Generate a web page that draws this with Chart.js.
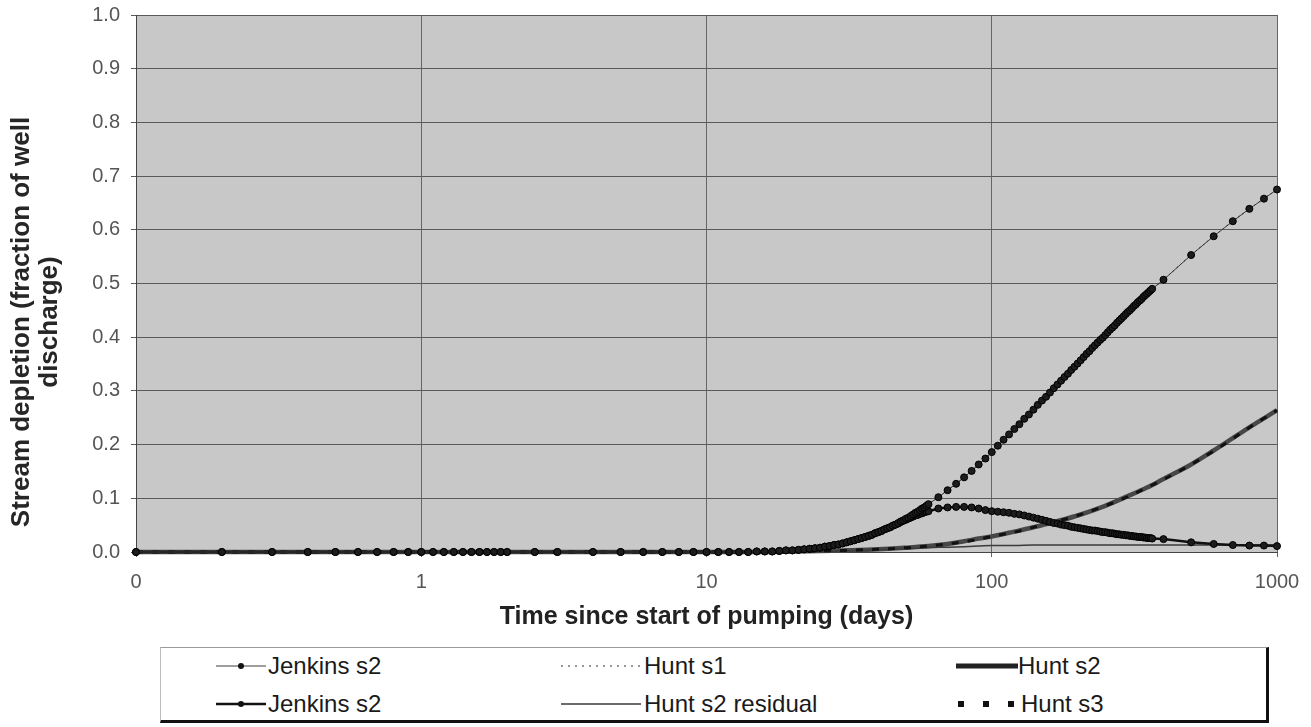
<!DOCTYPE html>
<html>
<head>
<meta charset="utf-8">
<title>Stream depletion</title>
<script src="https://cdn.jsdelivr.net/npm/chart.js@4.4.1/dist/chart.umd.min.js"></script>
<style>
    html, body { margin: 0; padding: 0; background: #fff; }
    body { width: 1311px; height: 727px; position: relative; overflow: hidden; font-family: "Liberation Sans", Arial, sans-serif; }
    #wrap { position: absolute; left: 0; top: 0; width: 1311px; height: 727px; }
    #ytitle {
        position: absolute;
        width: 540px;
        height: 56px;
        left: -236px;
        top: 294px;
        transform: rotate(-90deg);
        text-align: center;
        font-weight: bold;
        font-size: 26px;
        line-height: 28px;
        color: #262626;
        white-space: nowrap;
    }
    #legend {
        position: absolute;
        left: 160px;
        top: 647px;
        width: 1105px;
        height: 72px;
        background: #fff;
        border-top: 1px solid #9a9a9a;
        border-left: 1px solid #bdbdbd;
        border-right: 3px solid #111;
        border-bottom: 3px solid #111;
    }
    .item { position: absolute; display: flex; align-items: center; height: 30px; }
    .item span { font-family: "Liberation Sans Narrow", "Arial Narrow", "Liberation Sans", sans-serif; font-size: 24px; color: #1a1a1a; }
</style>
</head>
<body>
<div id="wrap"><canvas id="grafico"></canvas></div>
<div id="ytitle"></div>
<div id="legend"></div>
<script>
// Time grid of the Jenkins runs (days)
const days = [
    0.1, 0.2, 0.3, 0.4, 0.5, 0.6, 0.7, 0.8, 0.9, 1,
    1.1, 1.2, 1.3, 1.4, 1.5, 1.6, 1.7, 1.8, 1.9, 2,
    2.5, 3, 4, 5, 6, 7, 8, 9,
    10, 11, 12, 13, 14, 15, 16, 17, 18, 19, 20, 21, 22, 23, 24, 25, 26, 27, 28, 29, 30,
    31, 32, 33, 34, 35, 36, 37, 38, 39, 40, 41, 42, 43, 44, 45, 46, 47, 48, 49, 50,
    51, 52, 53, 54, 55, 56, 57, 58, 59, 60,
    65, 70, 75, 80, 85, 90, 95, 100,
    105, 110, 115, 120, 125, 130, 135, 140, 145, 150, 155, 160, 165, 170, 175, 180, 185, 190, 195, 200,
    205, 210, 215, 220, 225, 230, 235, 240, 245, 250, 255, 260, 265, 270, 275, 280, 285, 290, 295, 300,
    305, 310, 315, 320, 325, 330, 335, 340, 345, 350, 355, 360, 365,
    400, 500, 600, 700, 800, 900, 1000
];

// Jenkins s2, continuous pumping
const jenkinsS2 = [
    0, 0, 0, 0, 0, 0, 0, 0, 0, 0,
    0, 0, 0, 0, 0, 0, 0, 0, 0, 0,
    0, 0, 0, 0, 0, 0, 0, 0,
    0, 0, 0, 0, 0, 0.001, 0.001, 0.001, 0.002, 0.003, 0.003, 0.004, 0.005, 0.006, 0.007, 0.008, 0.010, 0.011, 0.013, 0.014, 0.016,
    0.018, 0.020, 0.022, 0.024, 0.026, 0.028, 0.030, 0.032, 0.035, 0.037, 0.039, 0.042, 0.044, 0.046, 0.049, 0.051, 0.054, 0.057, 0.059, 0.062,
    0.064, 0.067, 0.070, 0.073, 0.075, 0.078, 0.081, 0.083, 0.086, 0.089,
    0.102, 0.115, 0.127, 0.139, 0.151, 0.163, 0.174, 0.186,
    0.198, 0.209, 0.219, 0.229, 0.238, 0.248, 0.256, 0.265, 0.274, 0.282, 0.289, 0.297, 0.305, 0.312, 0.319, 0.326, 0.332, 0.339, 0.345, 0.351,
    0.357, 0.363, 0.369, 0.374, 0.380, 0.385, 0.390, 0.395, 0.399, 0.404, 0.409, 0.414, 0.418, 0.422, 0.427, 0.431, 0.435, 0.439, 0.443, 0.447,
    0.450, 0.454, 0.458, 0.461, 0.465, 0.468, 0.471, 0.475, 0.478, 0.481, 0.484, 0.487, 0.490,
    0.507, 0.553, 0.588, 0.616, 0.639, 0.658, 0.675
];

// Jenkins s2, pumping stopped (depletion goes on after the well is shut)
const jenkinsS2Stopped = [
    0, 0, 0, 0, 0, 0, 0, 0, 0, 0,
    0, 0, 0, 0, 0, 0, 0, 0, 0, 0,
    0, 0, 0, 0, 0, 0, 0, 0,
    0, 0, 0, 0, 0, 0.001, 0.001, 0.001, 0.002, 0.003, 0.003, 0.004, 0.005, 0.006, 0.007, 0.008, 0.010, 0.011, 0.013, 0.014, 0.016,
    0.018, 0.020, 0.022, 0.024, 0.026, 0.028, 0.030, 0.032, 0.035, 0.037, 0.039, 0.042, 0.044, 0.046, 0.049, 0.051, 0.053, 0.056, 0.058, 0.060,
    0.062, 0.064, 0.066, 0.068, 0.069, 0.071, 0.072, 0.074, 0.075, 0.076,
    0.081, 0.083, 0.084, 0.084, 0.083, 0.081, 0.078, 0.076,
    0.075, 0.074, 0.073, 0.071, 0.070, 0.068, 0.066, 0.064, 0.062, 0.060, 0.058, 0.056, 0.054, 0.053, 0.051, 0.050, 0.049, 0.047, 0.046, 0.045,
    0.044, 0.043, 0.042, 0.041, 0.040, 0.040, 0.039, 0.038, 0.037, 0.037, 0.036, 0.035, 0.035, 0.034, 0.033, 0.033, 0.032, 0.032, 0.031, 0.031,
    0.030, 0.030, 0.029, 0.029, 0.028, 0.028, 0.028, 0.027, 0.027, 0.026, 0.026, 0.026, 0.025,
    0.024, 0.018, 0.015, 0.013, 0.012, 0.012, 0.011
];

// Time grid of the Hunt runs (days)
const huntDays = [0.1, 1, 10, 15, 20, 25, 30, 40, 50, 60, 70, 80, 90, 100, 120, 140, 160, 180, 200, 250, 300, 350, 400, 500, 600, 700, 800, 900, 1000];
const huntS1 = [0, 0, 0, 0.001, 0.003, 0.008, 0.016, 0.037, 0.062, 0.089, 0.115, 0.139, 0.163, 0.186, 0.229, 0.265, 0.297, 0.326, 0.351, 0.404, 0.447, 0.481, 0.507, 0.553, 0.588, 0.616, 0.639, 0.658, 0.675];
const huntS2 = [0, 0, 0, 0, 0.001, 0.002, 0.003, 0.005, 0.008, 0.011, 0.015, 0.020, 0.025, 0.029, 0.038, 0.046, 0.054, 0.061, 0.068, 0.086, 0.104, 0.120, 0.136, 0.163, 0.189, 0.212, 0.232, 0.249, 0.264];
const huntS2Residual = [0, 0, 0, 0, 0, 0.001, 0.002, 0.004, 0.006, 0.008, 0.009, 0.010, 0.011, 0.012, 0.012, 0.013, 0.013, 0.013, 0.013, 0.013, 0.013, 0.013, 0.013, 0.013, 0.013, 0.013, 0.013, 0.013, 0.013];
const huntS3 = [0, 0, 0, 0, 0.001, 0.002, 0.003, 0.005, 0.008, 0.011, 0.015, 0.019, 0.024, 0.029, 0.037, 0.046, 0.054, 0.061, 0.068, 0.086, 0.103, 0.120, 0.135, 0.163, 0.188, 0.211, 0.232, 0.249, 0.264];

// Axes
const xTickValues = [0.1, 1, 10, 100, 1000];
const xTickLabels = ['0', '1', '10', '100', '1000'];
const xTitle = 'Time since start of pumping (days)';
const yTitle = ['Stream depletion (fraction of well', 'discharge)'];

Chart.defaults.font.family = "'Liberation Sans', Arial, sans-serif";

const toPoints = (xs, ys) => xs.map((x, i) => ({ x, y: ys[i] }));

// Gray fill behind the plot area
const plotBackground = {
    id: 'plotBackground',
    beforeDraw(chart) {
        const { ctx, chartArea: a } = chart;
        ctx.save();
        ctx.fillStyle = '#c8c8c8';
        ctx.fillRect(a.left, a.top, a.right - a.left, a.bottom - a.top);
        ctx.restore();
    }
};

// Legend slots: 3 columns x 2 rows, in dataset order
const legendSlots = [
    { left: 215, top: 650, w: 50, gap: 2 },
    { left: 560, top: 650, w: 80, gap: 3 },
    { left: 955, top: 650, w: 62, gap: 0 },
    { left: 215, top: 688, w: 50, gap: 2 },
    { left: 560, top: 688, w: 80, gap: 3 },
    { left: 957, top: 688, w: 56, gap: 7 }
];

function criarLegenda(chart) {
    const box = document.getElementById('legend');
    chart.data.datasets.forEach((ds, i) => {
        const slot = legendSlots[i];
        const item = document.createElement('div');
        item.className = 'item';
        item.style.left = (slot.left - 160) + 'px';
        item.style.top = (slot.top - 647) + 'px';
        const cor = ds.legendColor || ds.borderColor;
        const dash = ds.legendDash || ds.borderDash;
        const lw = ds.legendWidth || ds.borderWidth;
        let svg = `<svg width="${slot.w}" height="20"><line x1="0" y1="10" x2="${slot.w}" y2="10" stroke="${cor}" stroke-width="${lw}"` +
            (dash ? ` stroke-dasharray="${dash.join(' ')}"` : '') + '/>';
        if (ds.pointRadius > 0) {
            svg += `<circle cx="${slot.w / 2}" cy="10" r="3" fill="#111"/>`;
        }
        svg += '</svg>';
        item.innerHTML = `${svg}<span style="margin-left:${slot.gap}px">${ds.label}</span>`;
        box.appendChild(item);
    });
}

function criarGrafico() {
    const canvas = document.getElementById('grafico');
    const ctx = canvas.getContext('2d');

    document.getElementById('ytitle').innerHTML = yTitle.join('<br>');

    const datasets = [
        {
            label: 'Jenkins s2',
            data: toPoints(days, jenkinsS2),
            borderColor: '#3c3c3c',
            borderWidth: 1,
            pointRadius: 3.5,
            pointBackgroundColor: '#1c1c1c',
            pointBorderColor: '#000',
            pointBorderWidth: 1,
            clip: 8,
            order: 0
        },
        {
            label: 'Hunt s1',
            data: toPoints(huntDays, huntS1),
            borderColor: '#222',
            borderWidth: 1,
            borderDash: [2, 3],
            legendColor: '#777',
            legendWidth: 1.5,
            legendDash: [2, 5],
            pointRadius: 0,
            cubicInterpolationMode: 'monotone',
            clip: 8,
            order: 2
        },
        {
            label: 'Hunt s2',
            data: toPoints(huntDays, huntS2),
            borderColor: '#474747',
            borderWidth: 4.5,
            legendColor: '#222',
            legendWidth: 5,
            pointRadius: 0,
            cubicInterpolationMode: 'monotone',
            clip: 8,
            order: 4
        },
        {
            label: 'Jenkins s2',
            data: toPoints(days, jenkinsS2Stopped),
            borderColor: '#111',
            borderWidth: 2.5,
            pointRadius: 3.5,
            pointBackgroundColor: '#1c1c1c',
            pointBorderColor: '#000',
            pointBorderWidth: 1,
            clip: 8,
            order: 1
        },
        {
            label: 'Hunt s2 residual',
            data: toPoints(huntDays, huntS2Residual),
            borderColor: '#3a3a3a',
            borderWidth: 1.5,
            pointRadius: 0,
            cubicInterpolationMode: 'monotone',
            clip: 8,
            order: 3
        },
        {
            label: 'Hunt s3',
            data: toPoints(huntDays, huntS3),
            borderColor: '#111',
            borderWidth: 3,
            borderDash: [7, 9],
            legendWidth: 6,
            legendDash: [6, 19],
            pointRadius: 0,
            cubicInterpolationMode: 'monotone',
            clip: 8,
            order: 2
        }
    ];

    const chart = new Chart(ctx, {
        type: 'line',
        data: { datasets },
        plugins: [plotBackground],
        options: {
            responsive: true,
            maintainAspectRatio: false,
            animation: false,
            events: [],
            layout: { padding: { left: 0, right: 34, top: 15, bottom: 95 } },
            plugins: {
                legend: { display: false },
                tooltip: { enabled: false }
            },
            scales: {
                x: {
                    type: 'logarithmic',
                    min: 0.1,
                    max: 1000,
                    afterBuildTicks: scale => {
                        scale.ticks = xTickValues.map(v => ({ value: v }));
                    },
                    afterFit: scale => {
                        scale.height = 80;
                        scale.paddingLeft = 0;
                        scale.paddingRight = 0;
                    },
                    ticks: {
                        autoSkip: false,
                        maxRotation: 0,
                        padding: 13,
                        color: '#555',
                        font: { size: 20 },
                        callback: (v, i) => xTickLabels[i]
                    },
                    grid: { color: '#666', lineWidth: 1, tickLength: 5 },
                    border: { color: '#444', width: 1 },
                    title: {
                        display: true,
                        text: xTitle,
                        color: '#222',
                        font: { size: 25, weight: 'bold' },
                        padding: 0
                    }
                },
                y: {
                    min: 0,
                    max: 1,
                    afterFit: scale => {
                        scale.width = 136;
                        scale.paddingTop = 0;
                        scale.paddingBottom = 0;
                    },
                    ticks: {
                        stepSize: 0.1,
                        padding: 11,
                        color: '#555',
                        font: { size: 20 },
                        callback: v => v.toFixed(1)
                    },
                    grid: { color: '#5a5a5a', lineWidth: 1, tickLength: 5 },
                    border: { color: '#444', width: 1 }
                }
            }
        }
    });

    criarLegenda(chart);
}

document.addEventListener('DOMContentLoaded', criarGrafico);
</script>
</body>
</html>
